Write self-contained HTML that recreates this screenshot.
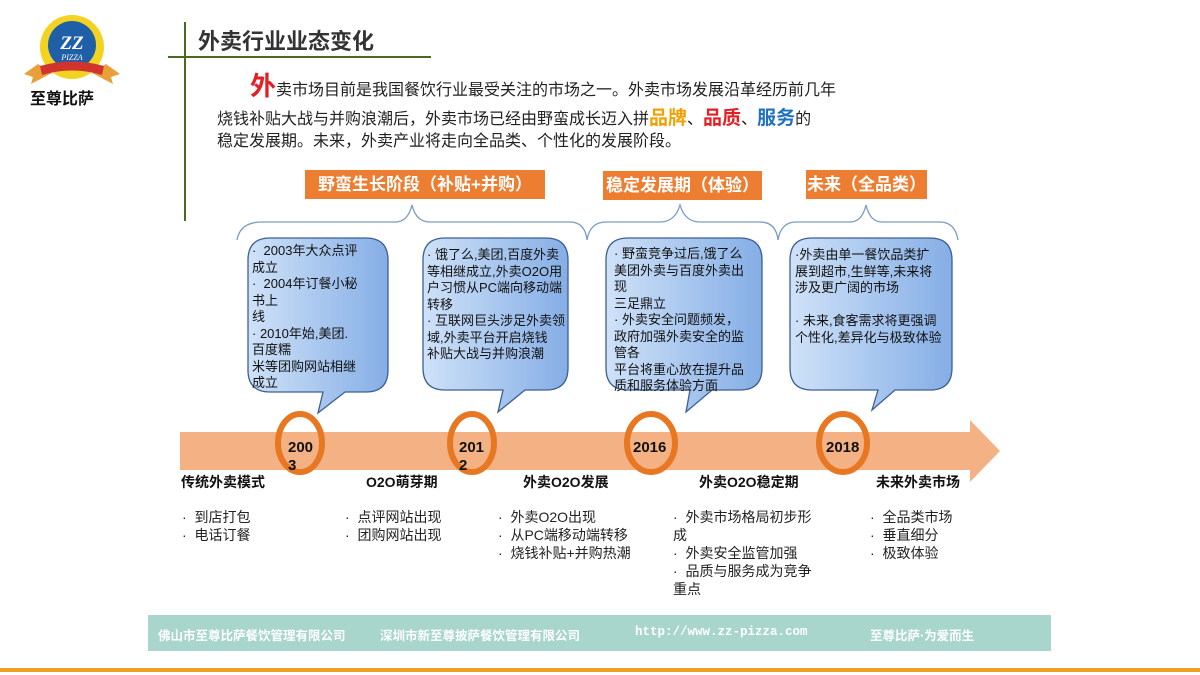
<!DOCTYPE html>
<html><head><meta charset="utf-8"><style>
body{margin:0;width:1200px;height:675px;overflow:hidden;background:#fff;font-family:"Liberation Sans","Noto Sans CJK SC",sans-serif;position:relative}
.t{position:absolute;white-space:nowrap;color:#222}
.lbl{position:absolute;background:#ed7d31;color:#fff;font-weight:bold;font-size:17px;height:29px;line-height:29px;text-align:center}
.bt{position:absolute;font-size:13px;line-height:16.5px;color:#111;white-space:nowrap}
.st{position:absolute;font-size:14px;font-weight:bold;color:#111;white-space:nowrap}
.li{position:absolute;font-size:14px;line-height:18px;color:#222;white-space:nowrap}
.ft{position:absolute;top:625px;color:#fff;font-size:12.5px;font-weight:bold;white-space:nowrap}
</style></head><body>
<svg width="1200" height="675" style="position:absolute;left:0;top:0">
<defs><linearGradient id="g" x1="0" x2="1" y1="0" y2="0"><stop offset="0" stop-color="#cfe2f8"/><stop offset="1" stop-color="#85aee6"/></linearGradient></defs>
<path d="M38 64 L24 74 L33 77 L31 84 L52 73 Z" fill="#e8a13a"/>
<path d="M106 64 L120 74 L111 77 L113 84 L92 73 Z" fill="#e8a13a"/>
<circle cx="72" cy="47" r="32" fill="#f3d321"/>
<circle cx="72" cy="45" r="24" fill="#1f5fa8"/>
<text x="72" y="49" text-anchor="middle" font-size="19" font-weight="bold" fill="#fff" font-style="italic" font-family="Liberation Serif">ZZ</text>
<text x="72" y="60" text-anchor="middle" font-size="8" fill="#fff" font-style="italic" font-family="Liberation Serif">PIZZA</text>
<path d="M40 66 Q72 57 104 66 L102 75 Q72 66 42 75 Z" fill="#d0342c"/>
<line x1="185" y1="22" x2="185" y2="221" stroke="#4a6b1f" stroke-width="2"/>
<line x1="168" y1="57" x2="431" y2="57" stroke="#4a6b1f" stroke-width="2"/>
<g fill="none" stroke="#7a9cc4" stroke-width="1.3">
<path d="M237 240 Q240 222 262 222 L395 222 Q408 222 412 205 Q416 222 430 222 L570 222 Q585 222 587 240"/>
<path d="M587 240 Q590 222 606 222 L660 222 Q675 222 680 205 Q685 222 700 222 L760 222 Q776 222 778 240"/>
<path d="M778 240 Q781 222 796 222 L850 222 Q862 222 866 205 Q870 222 882 222 L940 222 Q955 222 958 240"/>
</g>
<g fill="url(#g)" stroke="#3d5f94" stroke-width="1.3">
<path d="M270 238 H366 Q388 238 388 260 V370 Q388 392 366 392 H345 L318 413 L323 392 H270 Q248 392 248 370 V260 Q248 238 270 238 Z"/>
<path d="M445 238 H546 Q568 238 568 260 V368 Q568 390 546 390 H525 L498 412 L503 390 H445 Q423 390 423 368 V260 Q423 238 445 238 Z"/>
<path d="M628 238 H740 Q762 238 762 260 V368 Q762 390 740 390 H712 L686 412 L690 390 H628 Q606 390 606 368 V260 Q606 238 628 238 Z"/>
<path d="M812 238 H930 Q952 238 952 260 V368 Q952 390 930 390 H895 L872 410 L878 390 H812 Q790 390 790 368 V260 Q790 238 812 238 Z"/>
</g>
<path d="M180 432 H970 V420 L1000 451 L970 482 V470 H180 Z" fill="#f4b183"/>
<g fill="none" stroke="#e87722" stroke-width="6">
<ellipse cx="300" cy="443" rx="22" ry="29"/>
<ellipse cx="472" cy="443" rx="22" ry="29"/>
<ellipse cx="651" cy="443" rx="24" ry="29"/>
<ellipse cx="843" cy="443" rx="24" ry="29"/>
</g>
<g font-size="15" font-weight="bold" fill="#111">
<text x="288" y="452">200</text><text x="288" y="470">3</text>
<text x="459" y="452">201</text><text x="459" y="470">2</text>
<text x="633" y="452">2016</text>
<text x="826" y="452">2018</text>
</g>
<rect x="148" y="615" width="903" height="36" fill="#a8d5cc"/>
<rect x="0" y="668" width="1200" height="4" fill="#f0a020"/>
</svg>
<div class="t" style="left:30px;top:85px;font-size:16px;font-weight:bold;color:#111">至尊比萨</div>
<div class="t" style="left:198px;top:24px;font-size:22px;font-weight:bold;color:#333">外卖行业业态变化</div>
<div class="t" style="left:250px;top:66px;font-size:16px"><span style="color:#e31e24;font-size:26px;font-weight:bold">外</span>卖市场目前是我国餐饮行业最受关注的市场之一。外卖市场发展沿革经历前几年</div>
<div class="t" style="left:217px;top:103px;font-size:16px">烧钱补贴大战与并购浪潮后，外卖市场已经由野蛮成长迈入拼<b style="color:#f0a000;font-size:19px">品牌</b>、<b style="color:#e31e24;font-size:19px">品质</b>、<b style="color:#1f70c1;font-size:19px">服务</b>的</div>
<div class="t" style="left:217px;top:127px;font-size:16px">稳定发展期。未来，外卖产业将走向全品类、个性化的发展阶段。</div>
<div class="lbl" style="left:305px;top:170px;width:240px">野蛮生长阶段（补贴+并购）</div>
<div class="lbl" style="left:603px;top:171px;width:159px;overflow:hidden">稳定发展期（体验）</div>
<div class="lbl" style="left:806px;top:170px;width:121px;overflow:hidden">未来（全品类）</div>
<div class="bt" style="left:252px;top:243px">·&nbsp; 2003年大众点评<br>成立<br>·&nbsp; 2004年订餐小秘<br>书上<br>线<br>· 2010年始,美团.<br>百度糯<br>米等团购网站相继<br>成立</div>
<div class="bt" style="left:427px;top:247px">· 饿了么,美团,百度外卖<br>等相继成立,外卖O2O用<br>户习惯从PC端向移动端<br>转移<br>· 互联网巨头涉足外卖领<br>域,外卖平台开启烧钱<br>补贴大战与并购浪潮</div>
<div class="bt" style="left:614px;top:246px">· 野蛮竞争过后,饿了么<br>美团外卖与百度外卖出<br>现<br>三足鼎立<br>· 外卖安全问题频发，<br>政府加强外卖安全的监<br>管各<br>平台将重心放在提升品<br>质和服务体验方面</div>
<div class="bt" style="left:795px;top:247px">·外卖由单一餐饮品类扩<br>展到超市,生鲜等,未来将<br>涉及更广阔的市场<br><br>· 未来,食客需求将更强调<br>个性化,差异化与极致体验</div>
<div class="st" style="left:181px;top:472px">传统外卖模式</div>
<div class="st" style="left:366px;top:472px">O2O萌芽期</div>
<div class="st" style="left:523px;top:472px">外卖O2O发展</div>
<div class="st" style="left:699px;top:472px">外卖O2O稳定期</div>
<div class="st" style="left:876px;top:472px">未来外卖市场</div>
<div class="li" style="left:182px;top:508px">·&nbsp; 到店打包<br>·&nbsp; 电话订餐</div>
<div class="li" style="left:345px;top:508px">·&nbsp; 点评网站出现<br>·&nbsp; 团购网站出现</div>
<div class="li" style="left:498px;top:508px">·&nbsp; 外卖O2O出现<br>·&nbsp; 从PC端移动端转移<br>·&nbsp; 烧钱补贴+并购热潮</div>
<div class="li" style="left:673px;top:508px">·&nbsp; 外卖市场格局初步形<br>成<br>·&nbsp; 外卖安全监管加强<br>·&nbsp; 品质与服务成为竞争<br>重点</div>
<div class="li" style="left:870px;top:508px">·&nbsp; 全品类市场<br>·&nbsp; 垂直细分<br>·&nbsp; 极致体验</div>
<div class="ft" style="left:158px">佛山市至尊比萨餐饮管理有限公司</div>
<div class="ft" style="left:380px">深圳市新至尊披萨餐饮管理有限公司</div>
<div class="ft" style="left:635px;font-family:'Liberation Mono',monospace">http://www.zz-pizza.com</div>
<div class="ft" style="left:870px">至尊比萨·为爱而生</div>
</body></html>
